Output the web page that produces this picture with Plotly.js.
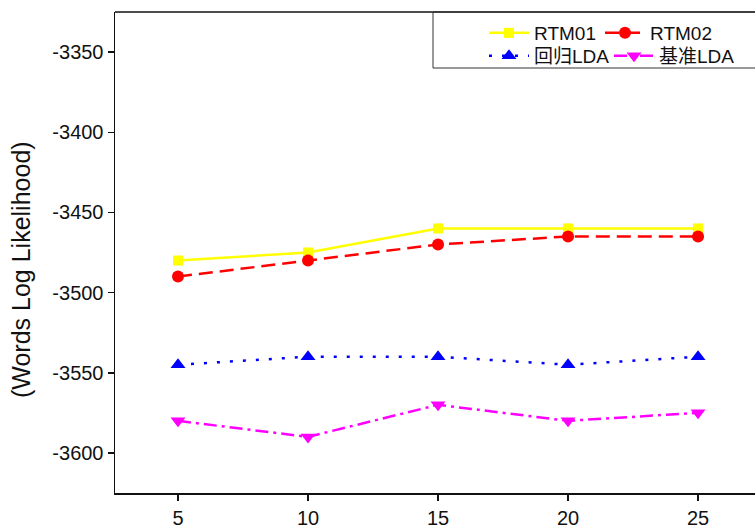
<!DOCTYPE html>
<html>
<head>
<meta charset="utf-8">
<script src="https://cdn.plot.ly/plotly-3.0.1.min.js"></script>
<style>html,body{margin:0;padding:0;background:#fff;}#chart{width:755px;height:527px;}</style>
</head>
<body>
<div id="chart"></div>
<script>
const topics = [5, 10, 15, 20, 25];
const rtm01 = [-3480, -3475, -3460, -3460, -3460];
const rtm02 = [-3490, -3480, -3470, -3465, -3465];
const regLDA = [-3545, -3540, -3540, -3545, -3540];
const baseLDA = [-3580, -3590, -3570, -3580, -3575];
const seriesNames = ['RTM01', 'RTM02', '回归LDA', '基准LDA'];
const xTicks = [5, 10, 15, 20, 25];
const yTicks = [-3600, -3550, -3500, -3450, -3400, -3350];
const yTitle = '(Words Log Likelihood)';

const FONT = 'Liberation Sans, Arial, Noto Sans CJK SC, sans-serif';
const L = 115, R = 0, T = 12, B = 34, W = 755, H = 527;
const pw = W - L - R, ph = H - T - B;
const px = x => (x - L) / pw;
const py = y => (H - B - y) / ph;

const traces = [
  {x: topics, y: rtm01, name: seriesNames[0], legend: 'legend', mode: 'lines+markers',
   line: {color: '#FFFF00', width: 2.5}, marker: {symbol: 'square', size: 10, color: '#FFFF00'}},
  {x: topics, y: rtm02, name: seriesNames[1], legend: 'legend2', mode: 'lines+markers',
   line: {color: '#FF0000', width: 2.5, dash: '14px,7px'}, marker: {symbol: 'circle', size: 12, color: '#FF0000'}},
  {x: topics, y: regLDA, name: seriesNames[2], legend: 'legend3', mode: 'lines+markers',
   line: {color: '#0000FF', width: 2.5, dash: '3px,10px'}, marker: {symbol: 'triangle-up', size: 13, color: '#0000FF'}},
  {x: topics, y: baseLDA, name: seriesNames[3], legend: 'legend4', mode: 'lines+markers',
   line: {color: '#FF00FF', width: 2.5, dash: '13px,5px,3px,5px'}, marker: {symbol: 'triangle-down', size: 13, color: '#FF00FF'}}
];

const legBase = {bgcolor: 'rgba(0,0,0,0)', borderwidth: 0, font: {family: FONT, size: 19, color: '#111'},
  xanchor: 'left', yanchor: 'middle', itemwidth: 40, tracegroupgap: 0};

const layout = {
  width: W, height: H,
  margin: {l: L, r: R, t: T, b: B, pad: 0},
  paper_bgcolor: '#fff', plot_bgcolor: '#fff',
  font: {family: FONT, size: 20, color: '#111'},
  showlegend: true,
  xaxis: {range: [2.577, 27.19], tickvals: xTicks, ticktext: xTicks.map(String),
    showgrid: false, zeroline: false, showline: true, linecolor: '#111', linewidth: 1.5,
    ticks: 'outside', ticklen: 6, tickwidth: 1.5, tickcolor: '#111',
    tickfont: {family: FONT, size: 20, color: '#111'}},
  yaxis: {range: [-3625, -3325], tickvals: yTicks, ticktext: yTicks.map(String),
    showgrid: false, zeroline: false, showline: true, linecolor: '#111', linewidth: 1.5,
    ticks: 'outside', ticklen: 6, tickwidth: 1.5, tickcolor: '#111',
    tickfont: {family: FONT, size: 20, color: '#111'}},
  legend: Object.assign({}, legBase, {x: px(484), y: py(33)}),
  legend2: Object.assign({}, legBase, {x: px(600), y: py(33)}),
  legend3: Object.assign({}, legBase, {x: px(484), y: py(56)}),
  legend4: Object.assign({}, legBase, {x: px(609), y: py(56)}),
  annotations: [{text: yTitle, xref: 'paper', yref: 'paper', x: px(21), y: py(270),
    textangle: -90, showarrow: false, xanchor: 'center', yanchor: 'middle',
    font: {family: FONT, size: 25, color: '#111'}}],
  shapes: [
    {type: 'line', xref: 'paper', yref: 'paper', x0: 0, x1: 1.01, y0: 1, y1: 1,
     line: {color: '#111', width: 1.5}},
    {type: 'rect', xref: 'paper', yref: 'paper', x0: px(433), x1: 1.05, y0: py(68), y1: 1,
     line: {color: '#333', width: 1}, fillcolor: 'rgba(0,0,0,0)'}
  ]
};

Plotly.newPlot('chart', traces, layout, {displayModeBar: false, staticPlot: true});
</script>
</body>
</html>
